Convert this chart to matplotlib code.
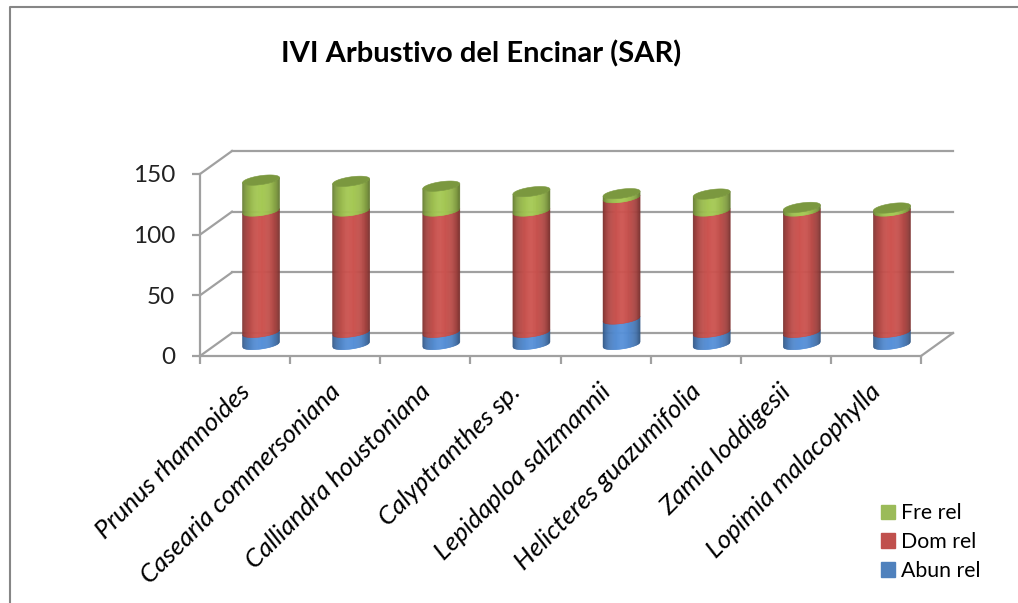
import numpy as np
import matplotlib
matplotlib.use('Agg')
import matplotlib.pyplot as plt
from matplotlib.collections import PolyCollection
from matplotlib.colors import to_rgb
from matplotlib.patches import Patch
from matplotlib.transforms import Affine2D

species = ['Prunus rhamnoides', 'Casearia commersoniana', 'Calliandra houstoniana',
           'Calyptranthes sp.', 'Lepidaploa salzmannii', 'Helicteres guazumifolia',
           'Zamia loddigesii', 'Lopimia malacophylla']
abun_rel = [10, 10, 10, 10, 21, 10, 10, 10]
dom_rel = [100, 100, 100, 100, 100, 100, 100, 100]
fre_rel = [25.5, 24.5, 20.5, 16, 3.3, 14, 3, 2.5]
y_ticks = [0, 50, 100, 150]

W, H = 1018, 603
GRID = '#a0a0a0'
PX_Y = 182 / 150  # pixels per y unit
PX_X = 721 / 8    # pixels per category

plt.rcParams['font.family'] = ['Lato', 'DejaVu Sans']

fig = plt.figure(figsize=(W / 100, H / 100), dpi=100)
ax = fig.add_axes([200 / W, 1 - 356 / H, 721 / W, 182 / H])
ax.set_xlim(0, 8)
ax.set_ylim(0, 150)
for s in ax.spines.values():
    s.set_visible(False)
ax.patch.set_alpha(0)

# depth of the fake 3d box, in data units
dx = 32 / PX_X
dy = 23 / PX_Y


def shade(color, u):
    """Dark at the edges of the cylinder, lighter around the middle."""
    c = np.array(to_rgb(color))
    k = 0.56 + 0.46 * np.cos(u * np.pi / 2) ** 0.55
    return tuple(np.clip(c * k, 0, 1))


def cylinder(x, y0, y1, color, top=None):
    """Stack one cylinder section from thin vertical strips."""
    half = 18.5 / PX_X
    tilt = 2.5 / PX_Y
    b = 4.5 / PX_Y
    edges = np.linspace(-1, 1, 41)
    polys, cols = [], []
    for a, c in zip(edges[:-1], edges[1:]):
        low_a = tilt * a - b * np.sqrt(1 - a * a)
        low_c = tilt * c - b * np.sqrt(1 - c * c)
        polys.append([(x + a * half, y0 + low_a), (x + c * half, y0 + low_c),
                      (x + c * half, y1 + low_c), (x + a * half, y1 + low_a)])
        cols.append(shade(color, (a + c) / 2))
    ax.add_collection(PolyCollection(polys, facecolors=cols, edgecolors=cols,
                                     linewidths=0.4, clip_on=False, zorder=3))
    if top is not None:
        t = np.linspace(0, 2 * np.pi, 80)
        ax.fill(x + half * np.cos(t), y1 + tilt * np.cos(t) + b * np.sin(t),
                color=top, lw=0.4, clip_on=False, zorder=4)


# walls and floor
for v in y_ticks:
    ax.plot([dx, 8 + dx], [v + dy, v + dy], color=GRID, lw=1.6, clip_on=False, zorder=1)
    ax.plot([0, dx], [v, v + dy], color=GRID, lw=1.6, clip_on=False, zorder=1)
ax.plot([0, 0], [0, 150], color=GRID, lw=1.6, clip_on=False, zorder=1)
ax.plot([0, 8], [0, 0], color=GRID, lw=1.6, clip_on=False, zorder=1)
ax.plot([8, 8 + dx], [0, dy], color=GRID, lw=1.6, clip_on=False, zorder=1)

for i in range(len(species)):
    cx = i + 0.5 + dx / 2
    base = dy / 2
    cylinder(cx, base, base + abun_rel[i], '#558ed5')
    cylinder(cx, base + abun_rel[i], base + abun_rel[i] + dom_rel[i], '#c9524e')
    cylinder(cx, base + abun_rel[i] + dom_rel[i],
             base + abun_rel[i] + dom_rel[i] + fre_rel[i], '#a2c552', top='#7b983f')

ax.set_yticks(y_ticks)
ax.set_xticks(np.arange(9))
ax.set_xticklabels([])
ax.set_xticks(np.arange(8) + 0.5, minor=True)
ax.set_xticklabels(species, minor=True, rotation=45, ha='right', va='top',
                   rotation_mode='anchor', style='italic', fontsize=18.7, color='black')
ax.tick_params(axis='x', which='major', length=6, width=1.6, color=GRID)
ax.tick_params(axis='x', which='minor', length=0, pad=17)
ax.tick_params(axis='y', length=6, width=1.6, color=GRID, labelsize=17.5, pad=12,
               labelcolor='#222222')

# nudge the slanted labels a bit to the left
for lab in ax.get_xticklabels(minor=True):
    lab.set_transform(lab.get_transform() + Affine2D().translate(-7, 0))

fig.text(481 / W, 1 - 54 / H, 'IVI Arbustivo del Encinar (SAR)', ha='center', va='center',
         fontsize=21, fontweight='bold', color='black')

handles = [Patch(color='#9bbb59', label='Fre rel'), Patch(color='#c0504d', label='Dom rel'),
           Patch(color='#4f81bd', label='Abun rel')]
fig.legend(handles=handles, loc='lower left', bbox_to_anchor=(881 / W, 1 - 581 / H),
           frameon=False, fontsize=15.3, handlelength=0.66, handleheight=0.66, handletextpad=0.3,
           labelspacing=0.42, borderpad=0, borderaxespad=0)

# outer chart border, no right side in the source
fig.add_artist(plt.Line2D([10 / W, 10 / W, 1], [0, 1 - 7 / H, 1 - 7 / H],
                          color='#868686', lw=1.5))

fig.savefig('out.png', dpi=100, facecolor='white')
